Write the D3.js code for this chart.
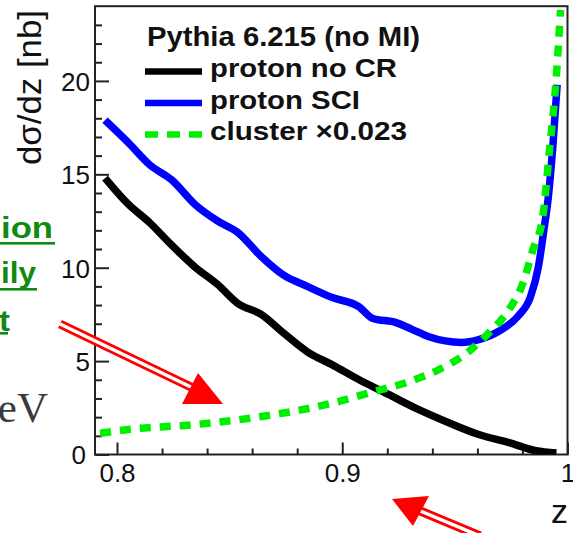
<!DOCTYPE html>
<html><head><meta charset="utf-8">
<script src="https://cdn.jsdelivr.net/npm/d3@7"></script>
<style>body{margin:0;background:#fff;overflow:hidden;} svg{display:block;}</style>
</head><body>
<svg id="c" width="573" height="533"></svg>
<script>
// ---- data ----
const zNoCR = [0.7947, 0.805, 0.8146, 0.8235, 0.8345, 0.8447, 0.8535, 0.864, 0.874, 0.8845, 0.8956, 0.9075, 0.9208, 0.934, 0.9473, 0.9606, 0.974, 0.986, 0.9951];
const vNoCR = [14.8, 13.4, 12.4, 11.3, 10.05, 9.1, 8.1, 7.5, 6.5, 5.5, 4.8, 4.0, 3.2, 2.4, 1.7, 1.07, 0.64, 0.2, 0.08];
const zSCI = [0.7947, 0.805, 0.8146, 0.8243, 0.8345, 0.8447, 0.8535, 0.864, 0.874, 0.8845, 0.8956, 0.9075, 0.9133, 0.9239, 0.931, 0.9385, 0.953, 0.9606, 0.9695, 0.978, 0.9836, 0.987, 0.9895, 0.9915, 0.9935, 0.9954];
const vSCI = [17.9, 16.7, 15.5, 14.7, 13.4, 12.5, 11.9, 10.6, 9.6, 9.0, 8.4, 7.9, 7.3, 7.06, 6.7, 6.3, 6.0, 6.15, 6.6, 7.4, 8.45, 10.0, 12.0, 13.8, 16.5, 19.8];
const zCluster = [0.7925, 0.805, 0.8345, 0.864, 0.8956, 0.912, 0.9297, 0.943, 0.956, 0.965, 0.974, 0.9802, 0.9846, 0.989, 0.992, 0.9949, 0.9969];
const vCluster = [1.13, 1.34, 1.6, 2.03, 2.75, 3.3, 3.9, 4.55, 5.5, 6.5, 7.75, 9.17, 10.95, 12.7, 16.3, 20.0, 23.8];

const xMajorTicks = [0.8, 0.9, 1.0];
const xMinorTicks = [0.82, 0.84, 0.86, 0.88, 0.92, 0.94, 0.96, 0.98];
const yMajorTicks = [0, 5, 10, 15, 20];
const yMinorTicks = [1, 2, 3, 4, 6, 7, 8, 9, 11, 12, 13, 14, 16, 17, 18, 19, 21, 22, 23];

const legendTitle = "Pythia 6.215 (no MI)";
const seriesLabels = ["proton no CR", "proton SCI", "cluster \u00d70.023"];
const seriesColors = ["#000000", "#0000ff", "#00ee00"];
const xTitle = "z";
const yTitle = "d\u03c3/dz [nb]";
const sideWords = ["ion", "ily", "t"];
const sideUnit = "eV";

// ---- layout ----
const svg = d3.select("#c");
const L = 95, R = 567.5, T = 6.2, B = 454.5;
const x = d3.scaleLinear().domain([0.79023, 1.0]).range([L, R]);
const y = d3.scaleLinear().domain([0, 24]).range([B, T]);
const font = "'Liberation Sans', Arial, sans-serif";

svg.append("defs").append("clipPath").attr("id", "clip")
  .append("rect").attr("x", L).attr("y", T).attr("width", R - L).attr("height", B - T);

// ---- side decorations from slide ----
const sideBase = [238, 283, 331];
const sideLen = [52, 35, 9];
sideWords.forEach((w, i) => {
  svg.append("text").attr("x", i === 2 ? -1 : 1).attr("y", sideBase[i])
    .attr("font-family", font).attr("font-weight", "bold").attr("font-size", 29)
    .attr("fill", "#128a12").attr("textLength", sideLen[i] + (i === 2 ? 2 : 0))
    .attr("lengthAdjust", "spacingAndGlyphs").text(w);
  svg.append("rect").attr("x", 0).attr("y", sideBase[i] + (i === 0 ? 4 : i === 1 ? 5 : 1))
    .attr("width", i === 0 ? 55 : i === 1 ? 37 : 8).attr("height", 2.6).attr("fill", "#128a12");
});
svg.append("text").attr("x", 48).attr("y", 422).attr("text-anchor", "end")
  .attr("font-family", "'Liberation Serif', 'Times New Roman', serif").attr("font-size", 43)
  .attr("fill", "#3a3a3a").text(sideUnit);

// ---- axes / frame ----
const axisStyle = g => {
  g.select(".domain").remove();
  g.selectAll("line").attr("stroke", "#222").attr("stroke-width", 2);
  g.selectAll("text").attr("font-family", font).attr("font-size", 26).attr("fill", "#111");
};
svg.append("g").attr("transform", `translate(${L},0)`)
  .call(d3.axisLeft(y).tickValues(yMinorTicks).tickSize(-7).tickFormat(""))
  .call(axisStyle);
svg.append("g").attr("transform", `translate(${L},0)`)
  .call(d3.axisLeft(y).tickValues(yMajorTicks).tickSize(-14).tickPadding(5).tickFormat(d3.format("d")))
  .call(axisStyle)
  .call(g => g.selectAll(".tick text").attr("dy", "0.36em")
    .filter(d => d === 0).attr("x", -9));
svg.append("g").attr("transform", `translate(0,${B})`)
  .call(d3.axisBottom(x).tickValues(xMinorTicks).tickSize(-6).tickFormat(""))
  .call(axisStyle);
svg.append("g").attr("transform", `translate(0,${B})`)
  .call(d3.axisBottom(x).tickValues(xMajorTicks).tickSize(-12).tickPadding(8)
    .tickFormat(d => d === 1 ? "1" : d3.format(".1f")(d)))
  .call(axisStyle)
  .call(g => g.selectAll(".tick text").attr("dy", "0.71em").attr("y", 9));

svg.append("rect").attr("x", L).attr("y", T).attr("width", R - L).attr("height", B - T)
  .attr("fill", "none").attr("stroke", "#222").attr("stroke-width", 2);

// axis titles
svg.append("text").attr("transform", "translate(41,165) rotate(-90)")
  .attr("font-family", font).attr("font-size", 34).attr("fill", "#111")
  .attr("textLength", 155).attr("lengthAdjust", "spacingAndGlyphs").text(yTitle);
svg.append("text").attr("x", 551).attr("y", 523)
  .attr("font-family", font).attr("font-size", 34).attr("fill", "#111").text(xTitle);

// ---- curves ----
const line = d3.line().x(d => x(d[0])).y(d => y(d[1])).curve(d3.curveMonotoneX);
const plot = svg.append("g").attr("clip-path", "url(#clip)");
const series = [
  d3.zip(zCluster, vCluster),
  d3.zip(zNoCR, vNoCR),
  d3.zip(zSCI, vSCI)
];
// draw black, blue, then green dashed on top
plot.append("path").datum(series[1]).attr("d", line).attr("fill", "none")
  .attr("stroke", seriesColors[0]).attr("stroke-width", 7.5).attr("stroke-linejoin", "round");
plot.append("path").datum(series[2]).attr("d", line).attr("fill", "none")
  .attr("stroke", seriesColors[1]).attr("stroke-width", 7.5).attr("stroke-linejoin", "round");
plot.append("path").datum(series[0]).attr("d", line).attr("fill", "none")
  .attr("stroke", seriesColors[2]).attr("stroke-width", 7.5).attr("stroke-dasharray", "11,9");

// ---- legend ----
const lg = svg.append("g");
lg.append("text").attr("x", 147).attr("y", 46).attr("font-family", font)
  .attr("font-weight", "bold").attr("font-size", 27).attr("fill", "#111")
  .attr("textLength", 273).attr("lengthAdjust", "spacingAndGlyphs").text(legendTitle);
const lgBase = [77, 108.5, 140];
const lgLen = [187, 150, 197];
seriesLabels.forEach((s, i) => {
  lg.append("line").attr("x1", 145).attr("x2", 202).attr("y1", lgBase[i] - 5.5).attr("y2", lgBase[i] - 5.5)
    .attr("stroke", seriesColors[i]).attr("stroke-width", 6.5)
    .attr("stroke-dasharray", i === 2 ? "13,9" : null);
  lg.append("text").attr("x", 210).attr("y", lgBase[i]).attr("font-family", font)
    .attr("font-weight", "bold").attr("font-size", 25).attr("fill", "#111")
    .attr("textLength", lgLen[i]).attr("lengthAdjust", "spacingAndGlyphs").text(s);
});

// ---- red annotation arrows (slide overlay) ----
const arrows = [
  {from: [60, 324], to: [193, 388], head: [[198, 373], [182, 404], [223, 404]]},
  {from: [480, 536], to: [418, 510], head: [[392, 499], [429, 496], [413, 526]]}
];
arrows.forEach(a => {
  svg.append("line").attr("x1", a.from[0]).attr("y1", a.from[1]).attr("x2", a.to[0]).attr("y2", a.to[1])
    .attr("stroke", "#ff0000").attr("stroke-width", 9);
  svg.append("line").attr("x1", a.from[0]).attr("y1", a.from[1]).attr("x2", a.to[0]).attr("y2", a.to[1])
    .attr("stroke", "#ffffff").attr("stroke-width", 3.5);
  svg.append("polygon").attr("points", a.head.map(p => p.join(",")).join(" ")).attr("fill", "#ff0000");
});
</script>
</body></html>
